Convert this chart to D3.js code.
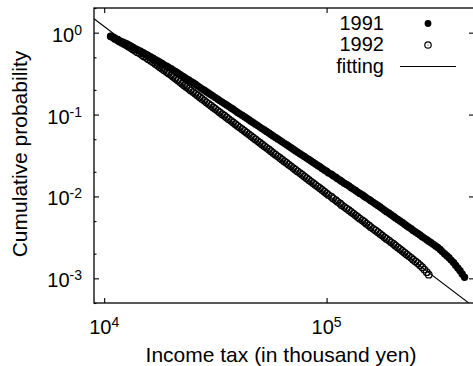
<!DOCTYPE html>
<html>
<head>
<meta charset="utf-8">
<script src="https://cdn.jsdelivr.net/npm/d3@7"></script>
<style>
  html, body { margin: 0; padding: 0; background: #fff; }
  svg { display: block; }
  text { font-family: "Liberation Sans", Arial, Helvetica, sans-serif; fill: #000; }
</style>
</head>
<body>
<svg id="chart" width="473" height="366"></svg>
<script>
// Income tax levels (thousand yen) at which the cumulative probability is sampled
const taxLevels = [
  10700, 11000, 11200, 11500, 11700, 12000, 12300, 12600, 12900, 13200,
  13500, 13800, 14100, 14500, 14800, 15100, 15500, 15800, 16200, 16600,
  17000, 17400, 17800, 18200, 18600, 19100, 19500, 20000, 20400, 20900,
  21400, 21900, 22400, 22900, 23400, 24000, 24500, 25100, 25700, 26300,
  26900, 27500, 28200, 28800, 29500, 30200, 30900, 31600, 32400, 33100,
  33900, 34700, 35500, 36300, 37200, 38000, 38900, 39800, 40700, 41700,
  42700, 43700, 44700, 45700, 46800, 47900, 49000, 50100, 51300, 52500,
  53700, 55000, 56200, 57500, 58900, 60300, 61700, 63100, 64600, 66100,
  67600, 69200, 70800, 72400, 74100, 75900, 77600, 79400, 81300, 83200,
  85100, 87100, 89100, 91200, 93300, 95500, 97700, 100000, 102000, 105000,
  107000, 110000, 112000, 115000, 117000, 120000, 123000, 126000, 129000, 132000,
  135000, 138000, 141000, 145000, 148000, 151000, 155000, 158000, 162000, 166000,
  170000, 174000, 178000, 182000, 186000, 191000, 195000, 200000, 204000, 209000,
  214000, 219000, 224000, 229000, 234000, 240000, 245000, 251000, 257000, 263000,
  269000, 275000, 282000, 288000, 295000, 302000, 309000, 316000, 324000, 331000,
  339000, 347000, 355000, 363000, 372000, 380000, 389000, 398000, 407000, 417000
];

// Cumulative probability, 1991 (one value per tax level)
const prob1991 = [
  0.901, 0.875, 0.849, 0.824, 0.800, 0.776, 0.753, 0.731, 0.707, 0.684,
  0.661, 0.639, 0.618, 0.598, 0.578, 0.560, 0.541, 0.523, 0.504, 0.486,
  0.469, 0.452, 0.435, 0.420, 0.404, 0.390, 0.376, 0.362, 0.348, 0.335,
  0.322, 0.309, 0.297, 0.286, 0.274, 0.264, 0.254, 0.244, 0.234, 0.224,
  0.215, 0.206, 0.198, 0.190, 0.182, 0.175, 0.168, 0.161, 0.154, 0.148,
  0.142, 0.136, 0.131, 0.126, 0.120, 0.116, 0.111, 0.106, 0.102, 0.0979,
  0.0939, 0.0901, 0.0865, 0.0829, 0.0796, 0.0764, 0.0733, 0.0703, 0.0674, 0.0647,
  0.0621, 0.0595, 0.0571, 0.0548, 0.0526, 0.0504, 0.0484, 0.0464, 0.0445, 0.0427,
  0.0410, 0.0393, 0.0377, 0.0362, 0.0347, 0.0333, 0.0320, 0.0307, 0.0294, 0.0282,
  0.0271, 0.0260, 0.0249, 0.0239, 0.0230, 0.0220, 0.0211, 0.0203, 0.0194, 0.0187,
  0.0179, 0.0172, 0.0165, 0.0158, 0.0152, 0.0145, 0.0140, 0.0134, 0.0128, 0.0123,
  0.0118, 0.0113, 0.0109, 0.0104, 0.0100, 0.00961, 0.00922, 0.00885, 0.00847, 0.00811,
  0.00776, 0.00743, 0.00711, 0.00680, 0.00651, 0.00623, 0.00597, 0.00571, 0.00547, 0.00523,
  0.00501, 0.00480, 0.00459, 0.00439, 0.00421, 0.00403, 0.00385, 0.00369, 0.00353, 0.00338,
  0.00323, 0.00310, 0.00296, 0.00284, 0.00272, 0.00260, 0.00249, 0.00238, 0.00225, 0.00212,
  0.00200, 0.00189, 0.00179, 0.00167, 0.00156, 0.00145, 0.00134, 0.00124, 0.00113, 0.00103
];

// Cumulative probability, 1992 (first 144 tax levels)
const prob1992 = [
  0.901, 0.870, 0.839, 0.810, 0.781, 0.754, 0.727, 0.702,
  0.675, 0.649, 0.624, 0.600, 0.577, 0.555, 0.534, 0.513, 0.494, 0.475,
  0.454, 0.434, 0.415, 0.397, 0.379, 0.363, 0.347, 0.331, 0.317, 0.303,
  0.289, 0.275, 0.262, 0.250, 0.238, 0.227, 0.217, 0.207, 0.197, 0.188,
  0.179, 0.171, 0.163, 0.155, 0.148, 0.141, 0.135, 0.128, 0.122, 0.117,
  0.111, 0.106, 0.101, 0.0966, 0.0921, 0.0878, 0.0838, 0.0799, 0.0762, 0.0727,
  0.0693, 0.0661, 0.0630, 0.0601, 0.0573, 0.0547, 0.0521, 0.0497, 0.0474, 0.0452,
  0.0431, 0.0411, 0.0392, 0.0374, 0.0357, 0.0340, 0.0324, 0.0309, 0.0295, 0.0281,
  0.0268, 0.0256, 0.0244, 0.0233, 0.0222, 0.0212, 0.0202, 0.0193, 0.0184, 0.0175,
  0.0167, 0.0159, 0.0152, 0.0145, 0.0138, 0.0132, 0.0126, 0.0120, 0.0114, 0.0109,
  0.0104, 0.00991, 0.00945, 0.00901, 0.00860, 0.00820, 0.00782, 0.00746, 0.00711, 0.00678,
  0.00647, 0.00617, 0.00588, 0.00561, 0.00535, 0.00510, 0.00487, 0.00464, 0.00443, 0.00422,
  0.00402, 0.00384, 0.00366, 0.00349, 0.00333, 0.00317, 0.00303, 0.00289, 0.00275, 0.00263,
  0.00250, 0.00238, 0.00227, 0.00216, 0.00206, 0.00196, 0.00187, 0.00178, 0.00169, 0.00161,
  0.00153, 0.00145, 0.00137, 0.00128, 0.00119, 0.00111
];

// Power-law fit P(>x) = fitScale * x^(-fitExponent)
const fitExponent = 2.06;
const fitScale = 2.07e8;

// Axis ranges and ticks
const taxDomain = [9000, 460000];
const probDomain = [5e-4, 2];
const xTickExponents = [4, 5];
const yTickExponents = [0, -1, -2, -3];
const yMinorMantissas = [2, 5];
const legendLabels = ["1991", "1992", "fitting"];
const xTitle = "Income tax (in thousand yen)";
const yTitle = "Cumulative probability";

const svg = d3.select("#chart");
const plot = { left: 94, right: 474, top: 8, bottom: 303 };

const x = d3.scaleLog().domain(taxDomain).range([plot.left, plot.right]);
const y = d3.scaleLog().domain(probDomain).range([plot.bottom, plot.top]);

const xMajor = xTickExponents.map(e => Math.pow(10, e));
const yMajor = yTickExponents.map(e => Math.pow(10, e));
const yMinor = [];
for (let e = -4; e <= 0; e++) {
  yMinorMantissas.forEach(m => {
    const v = m * Math.pow(10, e);
    if (v >= probDomain[0] && v <= probDomain[1]) yMinor.push(v);
  });
}

// Clip region for the data
svg.append("defs").append("clipPath").attr("id", "plot-clip")
  .append("rect")
  .attr("x", plot.left).attr("y", plot.top)
  .attr("width", plot.right - plot.left).attr("height", plot.bottom - plot.top);

// Inward ticks on all four sides
function stripDomain(g) { g.select(".domain").remove(); }
const tickStyle = g => g.selectAll(".tick line").attr("stroke", "#000").attr("stroke-width", 1.1);

svg.append("g").attr("transform", `translate(${plot.left},0)`)
  .call(d3.axisRight(y).tickValues(yMajor).tickSize(5).tickFormat(""))
  .call(stripDomain).call(tickStyle);
svg.append("g").attr("transform", `translate(${plot.left},0)`)
  .call(d3.axisRight(y).tickValues(yMinor).tickSize(2.5).tickFormat(""))
  .call(stripDomain).call(tickStyle);
svg.append("g").attr("transform", `translate(${plot.right},0)`)
  .call(d3.axisLeft(y).tickValues(yMajor).tickSize(5).tickFormat(""))
  .call(stripDomain).call(tickStyle);
svg.append("g").attr("transform", `translate(0,${plot.bottom})`)
  .call(d3.axisTop(x).tickValues(xMajor).tickSize(5).tickFormat(""))
  .call(stripDomain).call(tickStyle);
svg.append("g").attr("transform", `translate(0,${plot.top})`)
  .call(d3.axisBottom(x).tickValues(xMajor).tickSize(5).tickFormat(""))
  .call(stripDomain).call(tickStyle);

// Border
svg.append("rect")
  .attr("x", plot.left).attr("y", plot.top)
  .attr("width", plot.right - plot.left).attr("height", plot.bottom - plot.top)
  .attr("fill", "none").attr("stroke", "#000").attr("stroke-width", 1.3);

// Tick labels with superscript exponents
function powerLabel(sel, exp) {
  sel.append("tspan").text("10");
  sel.append("tspan").attr("dy", -7).attr("font-size", 14).text(String(exp));
}
yTickExponents.forEach(e => {
  svg.append("text")
    .attr("x", 82).attr("y", y(Math.pow(10, e)) + 9)
    .attr("text-anchor", "end").attr("font-size", 20)
    .call(powerLabel, e);
});
xTickExponents.forEach(e => {
  svg.append("text")
    .attr("x", x(Math.pow(10, e))).attr("y", 333.5)
    .attr("text-anchor", "middle").attr("font-size", 20)
    .call(powerLabel, e);
});

// Axis titles
svg.append("text")
  .attr("x", 281).attr("y", 361.5)
  .attr("text-anchor", "middle").attr("font-size", 21)
  .text(xTitle);
svg.append("text")
  .attr("transform", "translate(27,154) rotate(-90)")
  .attr("text-anchor", "middle").attr("font-size", 21)
  .text(yTitle);

// Data
const series1991 = taxLevels.map((t, i) => ({ tax: t, p: prob1991[i] })).filter(d => d.p !== undefined);
const series1992 = taxLevels.map((t, i) => ({ tax: t, p: prob1992[i] })).filter(d => d.p !== undefined);

const dataLayer = svg.append("g").attr("clip-path", "url(#plot-clip)");

dataLayer.append("g").selectAll("circle")
  .data(series1991).join("circle")
  .attr("cx", d => x(d.tax)).attr("cy", d => y(d.p))
  .attr("r", 3.7).attr("fill", "#000");

const open = dataLayer.append("g");
open.selectAll("circle.ring")
  .data(series1992).join("circle")
  .attr("class", "ring")
  .attr("cx", d => x(d.tax)).attr("cy", d => y(d.p))
  .attr("r", 3.3).attr("fill", "none").attr("stroke", "#000").attr("stroke-width", 1.25);
open.selectAll("circle.dot")
  .data(series1992).join("circle")
  .attr("class", "dot")
  .attr("cx", d => x(d.tax)).attr("cy", d => y(d.p))
  .attr("r", 0.6).attr("fill", "#000");

// Fitted power law
const fitPoints = taxDomain.map(t => ({ tax: t, p: fitScale * Math.pow(t, -fitExponent) }));
dataLayer.append("path")
  .datum(fitPoints)
  .attr("d", d3.line().x(d => x(d.tax)).y(d => y(d.p)))
  .attr("fill", "none").attr("stroke", "#000").attr("stroke-width", 1.1);

// Legend
const legendBase = [29.5, 51, 72.5];
legendLabels.forEach((label, i) => {
  svg.append("text")
    .attr("x", 384).attr("y", legendBase[i])
    .attr("text-anchor", "end").attr("font-size", 20)
    .text(label);
});
svg.append("circle").attr("cx", 428).attr("cy", legendBase[0] - 6).attr("r", 3.4).attr("fill", "#000");
svg.append("circle").attr("cx", 428).attr("cy", legendBase[1] - 6).attr("r", 3.2)
  .attr("fill", "none").attr("stroke", "#000").attr("stroke-width", 1.2);
svg.append("circle").attr("cx", 428).attr("cy", legendBase[1] - 6).attr("r", 0.6).attr("fill", "#000");
svg.append("line")
  .attr("x1", 400).attr("x2", 456)
  .attr("y1", legendBase[2] - 6).attr("y2", legendBase[2] - 6)
  .attr("stroke", "#000").attr("stroke-width", 1.1);
</script>
</body>
</html>
